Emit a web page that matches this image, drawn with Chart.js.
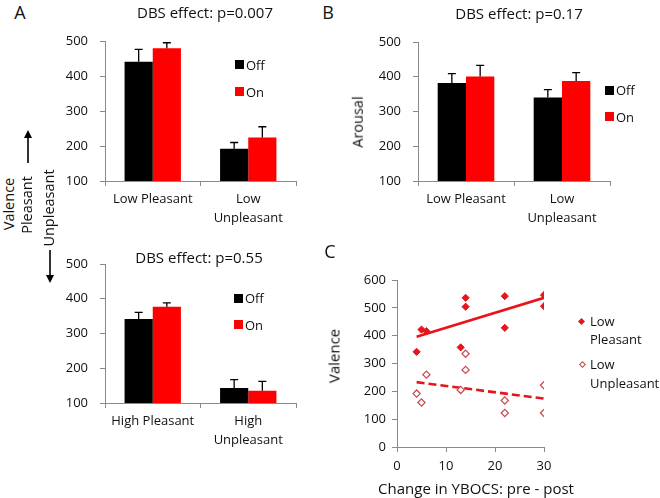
<!DOCTYPE html>
<html>
<head>
<meta charset="utf-8">
<script src="https://cdn.jsdelivr.net/npm/chart.js@4.4.1/dist/chart.umd.min.js"></script>
<style>
  body { margin: 0; background: #fff; }
  #fig { position: relative; width: 660px; height: 498px; overflow: hidden; font-family: "Open Sans", sans-serif; color: #111; }
  #fig canvas { position: absolute; }
  .lbl { position: absolute; white-space: nowrap; transform: translate(-50%, -50%); line-height: 1; }
  .left { transform: translate(0, -50%); }
  .rot { transform: translate(-50%, -50%) rotate(-90deg); }
  .sq { position: absolute; width: 9px; height: 9px; }
  .dia { position: absolute; width: 5px; height: 5px; transform: rotate(45deg); box-sizing: border-box; }
</style>
</head>
<body>
<div id="fig">
  <canvas id="chartA1"></canvas>
  <canvas id="chartA2"></canvas>
  <canvas id="chartB"></canvas>
  <canvas id="chartC"></canvas>
</div>
<script>
// ---- data ----
const barSeries = ['Off', 'On'];
const catsA1 = [['Low Pleasant'], ['Low', 'Unpleasant']];
const offA1 = [441, 192];
const onA1 = [479, 224];
const offErrA1 = [35, 18];
const onErrA1 = [16, 31];

const catsA2 = [['High Pleasant'], ['High', 'Unpleasant']];
const offA2 = [342, 143];
const onA2 = [377, 135];
const offErrA2 = [19, 24];
const onErrA2 = [11, 27];

const catsB = [['Low Pleasant'], ['Low', 'Unpleasant']];
const offB = [382, 340];
const onB = [401, 388];
const offErrB = [27, 23];
const onErrB = [32, 24];

const barTicks = [100, 200, 300, 400, 500];

// panel C: change in YBOCS vs valence
const lpX = [4, 5, 6, 13, 14, 14, 22, 22, 30, 30];
const lpY = [342, 422, 416, 358, 536, 504, 542, 428, 546, 506];
const luX = [4, 5, 6, 13, 14, 14, 22, 22, 30, 30];
const luY = [192, 160, 260, 205, 335, 277, 167, 122, 222, 122];
const trendX = [4, 30];
const lpTrend = [396, 536];
const luTrend = [233, 174];
const cYTicks = [0, 100, 200, 300, 400, 500, 600];
const cXTicks = [0, 10, 20, 30];

const OFF_COLOR = '#000000';
const ON_COLOR = '#ff0000';
const AXIS = '#8a8a8a';
const TXT = '#111111';
const FONT = '"Open Sans", sans-serif';

// margins around each plot area, kept fixed so the plot lands where we want
const ML = 70, MT = 20, MR = 20, MB = 50;

function place(id, area) {
  const c = document.getElementById(id);
  const w = area.r - area.l + ML + MR;
  const h = area.b - area.t + MT + MB;
  c.width = w; c.height = h;
  c.style.left = (area.l - ML) + 'px';
  c.style.top = (area.t - MT) + 'px';
  c.style.width = w + 'px'; c.style.height = h + 'px';
  return c.getContext('2d');
}

// up-only error bars with a cap
const errorBars = {
  id: 'errorBars',
  afterDatasetsDraw(chart) {
    const { ctx } = chart;
    const y = chart.scales.y;
    chart.data.datasets.forEach((ds, i) => {
      if (!ds.errors) return;
      chart.getDatasetMeta(i).data.forEach((bar, j) => {
        const top = y.getPixelForValue(ds.data[j] + ds.errors[j]);
        ctx.save();
        ctx.strokeStyle = '#000';
        ctx.lineWidth = 1.3;
        ctx.beginPath();
        ctx.moveTo(bar.x, bar.y);
        ctx.lineTo(bar.x, top);
        ctx.moveTo(bar.x - 4, top);
        ctx.lineTo(bar.x + 4, top);
        ctx.stroke();
        ctx.restore();
      });
    });
  }
};

function axisGrid() {
  return { drawOnChartArea: false, drawTicks: true, tickLength: 5, color: AXIS };
}

function barChart(id, area, cats, off, on, offErr, onErr) {
  const ctx = place(id, area);
  return new Chart(ctx, {
    type: 'bar',
    data: {
      labels: cats,
      datasets: [
        { label: barSeries[0], data: off, errors: offErr, backgroundColor: OFF_COLOR },
        { label: barSeries[1], data: on, errors: onErr, backgroundColor: ON_COLOR }
      ]
    },
    options: {
      responsive: false,
      animation: false,
      layout: { padding: { top: MT, right: MR, left: 0, bottom: 0 } },
      plugins: { legend: { display: false }, tooltip: { enabled: false } },
      datasets: { bar: { categoryPercentage: 0.59, barPercentage: 1.0 } },
      scales: {
        x: {
          grid: axisGrid(),
          border: { color: AXIS, width: 1 },
          ticks: { color: TXT, font: { family: FONT, size: 13, lineHeight: 1.45 }, padding: 4, maxRotation: 0 },
          afterFit: s => { s.height = MB; }
        },
        y: {
          min: 100, max: 500,
          afterBuildTicks: s => { s.ticks = barTicks.map(v => ({ value: v })); },
          grid: axisGrid(),
          border: { color: AXIS, width: 1 },
          ticks: { color: TXT, font: { family: FONT, size: 13 }, padding: 12 },
          afterFit: s => { s.width = ML; }
        }
      }
    },
    plugins: [errorBars]
  });
}

barChart('chartA1', { l: 105, t: 41, r: 296, b: 181 }, catsA1, offA1, onA1, offErrA1, onErrA1);
barChart('chartA2', { l: 105, t: 264, r: 296, b: 403 }, catsA2, offA2, onA2, offErrA2, onErrA2);
barChart('chartB', { l: 418, t: 42, r: 610, b: 181 }, catsB, offB, onB, offErrB, onErrB);

// ---- panel C scatter ----
const ctxC = place('chartC', { l: 397, t: 280, r: 544, b: 447 });
new Chart(ctxC, {
  type: 'scatter',
  data: {
    datasets: [
      {
        label: 'Low Pleasant',
        data: lpX.map((x, i) => ({ x, y: lpY[i] })),
        pointStyle: 'rectRot', pointRadius: 3.6,
        backgroundColor: '#e8141b', borderColor: '#e8141b', borderWidth: 1
      },
      {
        label: 'Low Unpleasant',
        data: luX.map((x, i) => ({ x, y: luY[i] })),
        pointStyle: 'rectRot', pointRadius: 3.6,
        backgroundColor: '#ffffff', borderColor: '#c8484a', borderWidth: 1.2
      },
      {
        type: 'line',
        data: trendX.map((x, i) => ({ x, y: lpTrend[i] })),
        borderColor: '#e8141b', borderWidth: 2.6, pointRadius: 0, fill: false
      },
      {
        type: 'line',
        data: trendX.map((x, i) => ({ x, y: luTrend[i] })),
        borderColor: '#e8141b', borderWidth: 2.6, borderDash: [8, 4], pointRadius: 0, fill: false
      }
    ]
  },
  options: {
    responsive: false,
    animation: false,
    layout: { padding: { top: MT, right: MR, left: 0, bottom: 0 } },
    plugins: { legend: { display: false }, tooltip: { enabled: false } },
    scales: {
      x: {
        type: 'linear', min: 0, max: 30,
        afterBuildTicks: s => { s.ticks = cXTicks.map(v => ({ value: v })); },
        grid: axisGrid(),
        border: { color: AXIS, width: 1 },
        ticks: { color: TXT, font: { family: FONT, size: 13 }, padding: 6 },
        afterFit: s => { s.height = MB; }
      },
      y: {
        min: 0, max: 600,
        afterBuildTicks: s => { s.ticks = cYTicks.map(v => ({ value: v })); },
        grid: axisGrid(),
        border: { color: AXIS, width: 1 },
        ticks: { color: TXT, font: { family: FONT, size: 13 }, padding: 6 },
        afterFit: s => { s.width = ML; }
      }
    }
  }
});

// ---- text, legends and arrows ----
const fig = document.getElementById('fig');
function label(text, x, y, size, cls) {
  const d = document.createElement('div');
  d.className = 'lbl' + (cls ? ' ' + cls : '');
  d.textContent = text;
  d.style.left = x + 'px';
  d.style.top = y + 'px';
  d.style.fontSize = size + 'px';
  fig.appendChild(d);
}
function box(cls, x, y, color, border) {
  const d = document.createElement('div');
  d.className = cls;
  d.style.left = x + 'px';
  d.style.top = y + 'px';
  d.style.background = color;
  if (border) d.style.border = border;
  fig.appendChild(d);
}
function barLegend(x, y0, y1) {
  box('sq', x, y0 - 4.5, OFF_COLOR);
  box('sq', x, y1 - 4.5, ON_COLOR);
  label(barSeries[0], x + 11, y0, 13, 'left');
  label(barSeries[1], x + 11, y1, 13, 'left');
}

label('A', 20, 12, 18);
label('B', 328, 12, 18);
label('C', 330, 251, 18);

label('DBS effect: p=0.007', 205, 12, 15);
label('DBS effect: p=0.17', 519, 13, 15);
label('DBS effect: p=0.55', 199, 257, 15);

barLegend(235, 64.5, 91.5);
barLegend(234, 298, 324.5);
barLegend(605, 90, 116.5);

label('Arousal', 358, 122, 14.5, 'rot');
label('Valence', 9, 204, 14.5, 'rot');
label('Pleasant', 27, 205, 14.5, 'rot');
label('Unpleasant', 49, 208, 14.5, 'rot');
label('Valence', 334, 356, 15, 'rot');
label('Change in YBOCS: pre - post', 476, 488, 15);

// legend for C
box('dia', 579, 318.5, '#e8141b');
label('Low', 590, 320.5, 13, 'left');
label('Pleasant', 590, 339, 13, 'left');
box('dia', 579.5, 361.5, '#fff', '1.1px solid #c8484a');
label('Low', 590, 364, 13, 'left');
label('Unpleasant', 590, 382.5, 13, 'left');
</script>
<svg style="position:absolute;left:0;top:0" width="660" height="498">
  <defs>
    <marker id="ah" viewBox="0 0 10 10" refX="5" refY="5" markerWidth="5" markerHeight="6" orient="auto-start-reverse">
      <path d="M0,0 L10,5 L0,10 z" fill="#000"/>
    </marker>
  </defs>
  <line x1="28" y1="163" x2="28" y2="134" stroke="#000" stroke-width="1.6" marker-end="url(#ah)"/>
  <line x1="50" y1="250" x2="50" y2="279" stroke="#000" stroke-width="1.6" marker-end="url(#ah)"/>
</svg>
</body>
</html>
